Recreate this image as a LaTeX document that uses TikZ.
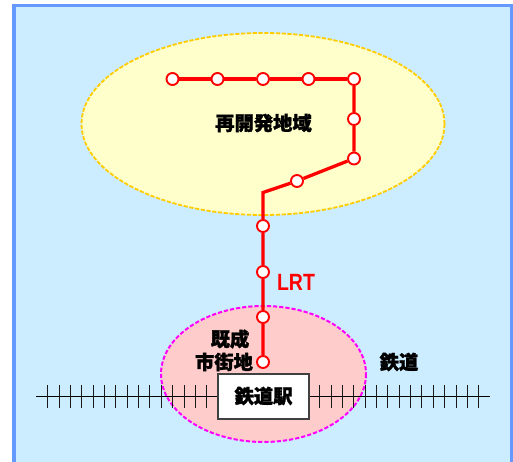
\documentclass[tikz,border=0pt]{standalone}
\usepackage{fontspec}
\newfontfamily\jp{Noto Sans CJK JP}[BoldFeatures={FakeBold=1.6}]
\setsansfont{Liberation Sans}
\definecolor{lineRed}{HTML}{FF0000}
\definecolor{skyfill}{HTML}{CCECFF}
\definecolor{frameblue}{HTML}{6699FF}
\definecolor{yellowfill}{HTML}{FFFFCC}
\definecolor{yellowline}{HTML}{FFCC00}
\definecolor{pinkfill}{HTML}{FFCCCC}
\definecolor{pinkline}{HTML}{FF00FF}
\tikzset{
  x=1pt,y=-1pt,
  station/.style={circle,draw=lineRed,fill=white,line width=1.9pt,minimum size=12pt,inner sep=0pt},
  lrt/.style={draw=lineRed,line width=3.3pt},
  jplabel/.style={font=\jp\bfseries\fontsize{19.3}{22}\selectfont,inner sep=0pt,text=black},
  tie/.style={draw=black!90,line width=1pt},
}
\begin{document}
\begin{tikzpicture}
\useasboundingbox (0,0) rectangle (513,462);
\clip (0,0) rectangle (513,462);
\draw[fill=skyfill,draw=frameblue,line width=3.4pt] (14,5.5) rectangle (511.5,480);
\draw[fill=yellowfill,draw=yellowline,line width=1.8pt,dash pattern=on 4.2pt off 1.6pt] (263,124) ellipse [x radius=181.5,y radius=91];
\draw[fill=pinkfill,draw=pinkline,line width=2pt,dash pattern=on 4.2pt off 2pt] (263.5,374) ellipse [x radius=102.5,y radius=68];
% railway
\coordinate (railW) at (36,396.5);
\coordinate (railE) at (490,396.5);
\draw[black,line width=1pt] (railW) -- (railE);
\foreach \i in {0,...,14} {
  \pgfmathsetmacro{\xa}{floor(47.7+\i*11.36)+0.5}
  \pgfmathsetmacro{\xb}{floor(319.7+\i*11.36)+0.5}
  \draw[tie] (\xa,385) -- (\xa,408);
  \draw[tie] (\xb,385) -- (\xb,408);
}
\node[draw=black!75,fill=white,line width=1.1pt,minimum width=91pt,minimum height=45pt,inner sep=0pt] (eki) at (263.5,396.5) {};
\node[jplabel] (ekiT) at (263.5,396) {鉄道駅};
% stations
\node[station] (s1) at (172.5,79) {};
\node[station] (s2) at (217.5,79) {};
\node[station] (s3) at (263,79) {};
\node[station] (s4) at (308.5,79) {};
\node[station] (s5) at (354,79) {};
\node[station] (s6) at (354,119) {};
\node[station] (s7) at (354,158.5) {};
\node[station] (s8) at (297,181) {};
\coordinate (bend) at (263,192.5);
\node[station] (s9) at (263,226) {};
\node[station] (s10) at (263,272) {};
\node[station] (s11) at (263,317) {};
\node[station] (s12) at (263,362) {};
\draw[lrt] (s1) -- (s2) -- (s3) -- (s4) -- (s5);
\draw[lrt] (s5) -- (s6) -- (s7) -- (s8) -- (bend) -- (s9) -- (s10) -- (s11) -- (s12);
% labels
\node[jplabel] (area) at (263.5,123) {再開発地域};
\node[jplabel] (old1) at (230,339) {既成};
\node[jplabel] (old2) at (224,362) {市街地};
\node[jplabel] (rail) at (399,362) {鉄道};
\node[font=\sffamily\bfseries\fontsize{23.5}{26}\selectfont,text=lineRed,inner sep=0pt,xscale=0.83] (lrtT) at (296,282) {LRT};
\end{tikzpicture}
\end{document}
